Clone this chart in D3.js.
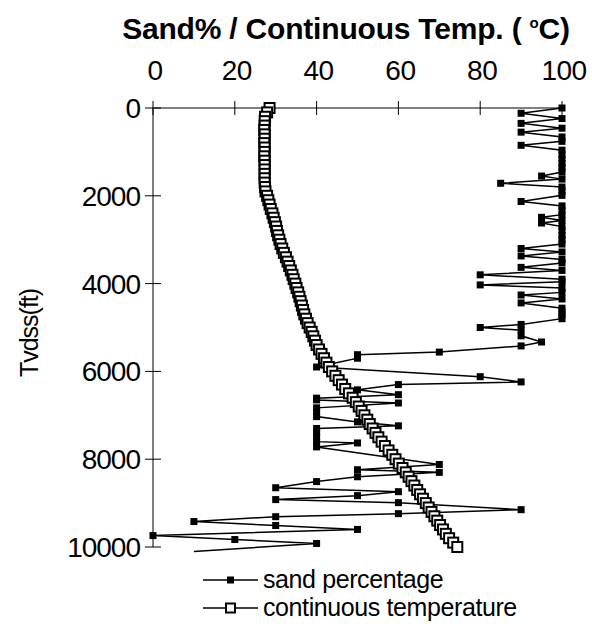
<!doctype html>
<html lang="en">
<head>
    <title>Sand % and temperature vs depth</title>
    <script src="https://d3js.org/d3.v7.min.js"></script>
    <style>
        body { margin: 0; background: #fff; }
        text { font-family: "Liberation Sans", Arial, sans-serif; fill: #000; }
    </style>
</head>
<body>
<script>
    // temperature log, depth in ft (tvdss) and deg C
    var tempDepth = [0,100,200,300,400,500,600,700,800,900,1000,1100,1200,1300,1400,1500,1600,1700,1800,1900,
        2000,2100,2200,2300,2400,2500,2600,2700,2800,2900,3000,3100,3200,3300,3400,3500,3600,3700,3800,3900,
        4000,4100,4200,4300,4400,4500,4600,4700,4800,4900,5000,5100,5200,5300,5400,5500,5600,5700,5800,5900,
        6000,6100,6200,6300,6400,6500,6600,6700,6800,6900,7000,7100,7200,7300,7400,7500,7600,7700,7800,7900,
        8000,8100,8200,8300,8400,8500,8600,8700,8800,8900,9000,9100,9200,9300,9400,9500,9600,9700,9800,9900,
        10000,10100];
    var tempValues = [28.5,27.9,27.4,27.3,27.3,27.2,27.3,27.3,27.2,27.3,27.3,27.2,27.3,27.3,27.3,27.3,27.3,27.3,27.4,27.5,
        27.9,28.2,28.5,28.8,29.2,29.5,29.8,30.1,30.3,30.6,30.9,31.2,31.6,32.0,32.5,32.9,33.3,33.7,34.1,34.4,
        34.8,35.1,35.5,35.8,36.1,36.4,36.7,37.0,37.4,37.8,38.3,38.8,39.2,39.6,40.0,40.6,41.2,41.8,42.4,43.0,
        43.8,44.6,45.4,46.2,47.0,47.9,48.8,49.6,50.3,51.0,51.7,52.4,53.0,53.7,54.4,55.1,55.9,56.7,57.6,58.5,
        59.3,60.1,61.0,61.8,62.5,63.2,63.9,64.6,65.3,66.0,66.7,67.4,68.1,68.8,69.5,70.2,70.9,71.6,72.4,73.4,
        74.4,75.4];

    // sand percentage
    var sandDepth = [0,120,240,350,460,550,660,760,850,960,1060,1160,1260,1360,1460,1550,1620,1715,1800,1890,
        1990,2130,2230,2330,2430,2490,2560,2620,2700,2800,2900,3000,3100,3200,3280,3370,3450,3530,3630,3700,
        3800,3900,3960,4030,4100,4200,4260,4350,4440,4560,4650,4720,4800,4930,5000,5060,5190,5330,5420,5560,
        5620,5700,5900,6120,6240,6300,6420,6530,6610,6650,6720,6830,6930,7030,7150,7240,7300,7400,7490,7600,
        7630,7720,8120,8240,8300,8400,8510,8650,8740,8830,8920,8990,9150,9240,9310,9420,9510,9600,9740,9830,
        9920,10100];
    var sandValues = [100,90,100,90,100,90,100,100,90,100,100,100,100,100,100,95,100,85,100,100,
        100,90,100,100,100,95,100,95,100,100,100,100,100,90,100,90,100,100,90,100,
        80,100,100,80,100,100,90,100,90,100,100,100,100,90,80,90,90,95,90,70,
        50,50,40,80,90,60,50,60,40,40,60,40,40,40,50,60,40,40,40,40,
        50,40,70,50,70,50,40,30,60,50,30,60,90,60,30,10,30,50,0,20,
        40,10];

    var xTicks = [0, 20, 40, 60, 80, 100];
    var yTicks = [0, 2000, 4000, 6000, 8000, 10000];

    const width = 592;  const height = 630;
    const plotLeft = 153, plotRight = 562, plotTop = 108, plotBottom = 547;

    const svg = d3.select("body")
                  .append("svg")
                  .attr("width", width)
                  .attr("height", height);

    var x = d3.scaleLinear().domain([0, 100]).range([plotLeft, plotRight]);
    var y = d3.scaleLinear().domain([0, 10000]).range([plotTop, plotBottom]);

    // title
    var title = svg.append("text")
        .attr("x", 346).attr("y", 39)
        .attr("text-anchor", "middle")
        .style("font-size", "30px").style("font-weight", "bold")
        .style("letter-spacing", "-0.2px");
    title.append("tspan").text("Sand% / Continuous Temp. ( ");
    title.append("tspan").text("o").style("font-size", "15px").attr("dy", -11);
    title.append("tspan").text("C)").attr("dy", 11);

    // top axis
    svg.append("line").attr("x1", plotLeft).attr("x2", plotRight).attr("y1", plotTop).attr("y2", plotTop)
        .attr("stroke", "#000").attr("stroke-width", 1);
    svg.selectAll(".xtick").data(xTicks).enter().append("line")
        .attr("x1", d => x(d)).attr("x2", d => x(d))
        .attr("y1", plotTop - 7).attr("y2", plotTop + 7)
        .attr("stroke", "#000");
    svg.selectAll(".xlab").data(xTicks).enter().append("text")
        .attr("x", d => x(d) + 2).attr("y", 80)
        .attr("text-anchor", "middle")
        .style("font-size", "28px").style("letter-spacing", "-0.5px")
        .text(d => d);

    // left axis
    svg.append("line").attr("x1", plotLeft).attr("x2", plotLeft).attr("y1", plotTop).attr("y2", plotBottom)
        .attr("stroke", "#000");
    svg.selectAll(".ytick").data(yTicks).enter().append("line")
        .attr("x1", plotLeft - 8).attr("x2", plotLeft + 8)
        .attr("y1", d => y(d)).attr("y2", d => y(d))
        .attr("stroke", "#000");
    svg.selectAll(".ylab").data(yTicks).enter().append("text")
        .attr("x", 140).attr("y", d => y(d) + 10)
        .attr("text-anchor", "end")
        .style("font-size", "28px").style("letter-spacing", "-1px")
        .text(d => d);

    svg.append("text")
        .attr("transform", "translate(38,333) rotate(-90)")
        .attr("text-anchor", "middle")
        .style("font-size", "25px").style("letter-spacing", "-1px")
        .text("Tvdss(ft)");

    var sand = sandDepth.map((d, i) => ({depth: d, v: sandValues[i]}));
    var temp = tempDepth.map((d, i) => ({depth: d, v: tempValues[i]}));

    var line = d3.line().x(d => x(d.v)).y(d => y(d.depth));

    // sand series
    svg.append("path").datum(sand).attr("d", line)
        .attr("fill", "none").attr("stroke", "#000").attr("stroke-width", 1.5);
    svg.selectAll(".sand").data(sand.filter(d => d.depth <= 10000)).enter().append("rect")
        .attr("x", d => x(d.v) - 3.5).attr("y", d => y(d.depth) - 3.5)
        .attr("width", 7).attr("height", 7)
        .attr("fill", "#000");

    // temperature series
    svg.append("path").datum(temp).attr("d", line)
        .attr("fill", "none").attr("stroke", "#000").attr("stroke-width", 1.5);
    svg.selectAll(".temp").data(temp.filter(d => d.depth <= 10000)).enter().append("rect")
        .attr("x", d => x(d.v) - 5).attr("y", d => y(d.depth) - 5)
        .attr("width", 10).attr("height", 10)
        .attr("fill", "#fff").attr("stroke", "#000").attr("stroke-width", 2);

    // legend
    var legend = svg.append("g");
    legend.append("line").attr("x1", 203).attr("x2", 258).attr("y1", 580).attr("y2", 580)
        .attr("stroke", "#000").attr("stroke-width", 1.5);
    legend.append("rect").attr("x", 227).attr("y", 576.5).attr("width", 7).attr("height", 7).attr("fill", "#000");
    legend.append("text").attr("x", 263).attr("y", 588)
        .style("font-size", "25px").style("letter-spacing", "-0.4px")
        .text("sand percentage");
    legend.append("line").attr("x1", 203).attr("x2", 258).attr("y1", 608).attr("y2", 608)
        .attr("stroke", "#000").attr("stroke-width", 1.5);
    legend.append("rect").attr("x", 226).attr("y", 603.5).attr("width", 9).attr("height", 9)
        .attr("fill", "#fff").attr("stroke", "#000").attr("stroke-width", 2);
    legend.append("text").attr("x", 263).attr("y", 616)
        .style("font-size", "25px").style("letter-spacing", "-0.4px")
        .text("continuous temperature");
</script>
</body>
</html>
